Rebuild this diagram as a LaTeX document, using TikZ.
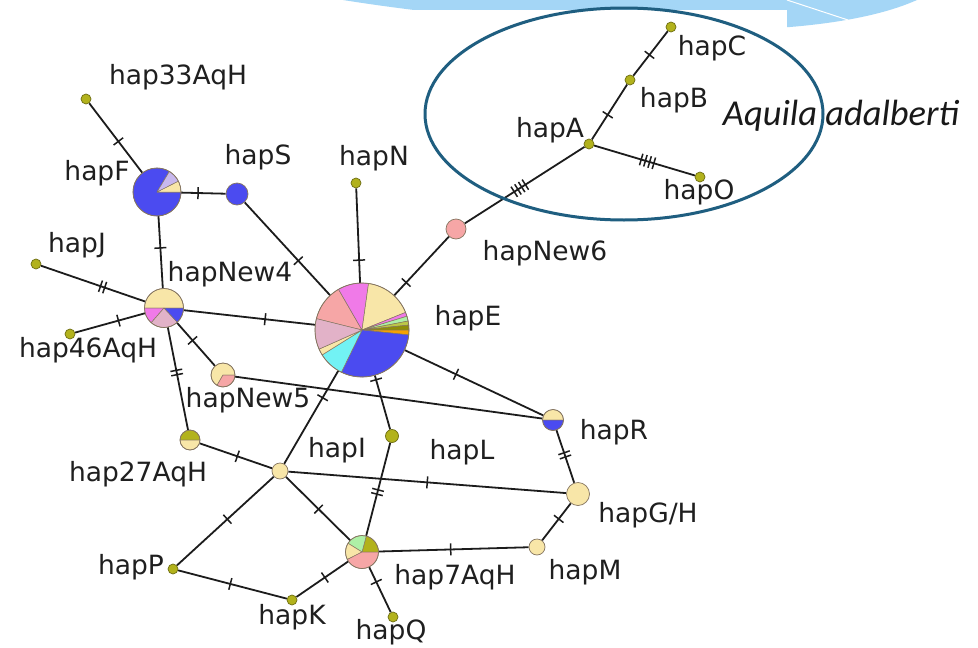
\documentclass[tikz,border=0pt]{standalone}
\usepackage{fontspec}
\newfontfamily\hapfont{DejaVu Sans}
\newfontfamily\spfont{Carlito}
\usetikzlibrary{decorations.markings}

\definecolor{swoosh}{HTML}{A4D6F6}
\definecolor{ringcol}{HTML}{1F5E80}
\definecolor{linkcol}{HTML}{1C1C1C}
\definecolor{rimcol}{HTML}{857560}
\definecolor{hblue}{HTML}{4B4BF0}
\definecolor{hcream}{HTML}{F8E6A8}
\definecolor{hsalmon}{HTML}{F6A6A6}
\definecolor{hmagenta}{HTML}{F07AE8}
\definecolor{hmauve}{HTML}{E2B2C8}
\definecolor{hcyan}{HTML}{72F2F4}
\definecolor{hlav}{HTML}{C8B8EE}
\definecolor{hlgreen}{HTML}{AEF0A6}
\definecolor{hygreen}{HTML}{BCC848}
\definecolor{holive}{HTML}{B2B21C}
\definecolor{hdolive}{HTML}{8E8E08}
\definecolor{horange}{HTML}{F6A200}
\definecolor{dotline}{HTML}{6E6E12}

\pgfdeclarelayer{backdrop}
\pgfdeclarelayer{links}
\pgfsetlayers{backdrop,links,main}

% one wedge of a pie chart: centre node, radius, start angle, end angle, colour
\newcommand\hslice[5]{%
  \filldraw[fill=#5, draw=rimcol, line width=0.5pt, line join=round]
    (#1.center) -- ++({-(#3)}:#2) arc[start angle={-(#3)}, end angle={-(#4)}, radius=#2] -- cycle;}
\newcommand\hrim[2]{\draw[rimcol, line width=0.7pt] (#1.center) circle[radius=#2];}

\tikzset{
  hnode/.style={circle, inner sep=0pt, draw=rimcol, line width=0.7pt},
  hdot/.style={hnode, fill=holive, draw=dotline, minimum size=10pt},
  pienode/.style={circle, inner sep=0pt, draw=none, minimum size=#1},
  lbl/.style={font=\hapfont\fontsize{26.5}{30}\selectfont, text=black!88, inner sep=0pt},
  link/.style={draw=linkcol, line width=1.8pt},
  tickln/.style={draw=linkcol, line width=1.5pt},
  mut/.style 2 args={postaction={decorate, decoration={markings,
    mark=at position #2 with {\foreach \k in {1,...,#1}{%
      \pgfmathsetmacro\off{(\k-(#1+1)/2)*4.4}%
      \draw[tickln] (\off pt,-6pt) -- (\off pt,6pt);}}}}},
}

\begin{document}
\begin{tikzpicture}[x=1pt,y=-1pt]
\useasboundingbox (0,0) rectangle (978,648);

% slide backdrop: pale blue swoosh behind a white panel
\begin{pgfonlayer}{backdrop}
  \fill[white] (0,0) rectangle (978,648);
  \fill[swoosh] (343,0) .. controls (520,28) and (700,32) .. (790,27)
                .. controls (850,22) and (890,12) .. (917,0) -- cycle;
  \draw[white, line width=1pt] (787,0) -- (848,20);
  \fill[white] (0,10) rectangle (787,648);
\end{pgfonlayer}

% haplotypes
\node[hdot] (hap33) at (86,99) {};
\node[pienode=48pt] (hapF) at (157,192) {};
\node[hnode, fill=hblue, minimum size=22pt] (hapS) at (237,194) {};
\node[hdot] (hapJ) at (36,264) {};
\node[hdot] (hap46) at (70,334) {};
\node[pienode=39pt] (hapNew4) at (164,308) {};
\node[hdot] (hapN) at (356,183) {};
\node[pienode=94pt] (hapE) at (362,330) {};
\node[hnode, fill=hsalmon, minimum size=20pt] (hapNew6) at (456,229) {};
\node[hdot] (hapA) at (589,144) {};
\node[hdot] (hapB) at (630,80) {};
\node[hdot] (hapC) at (671,27) {};
\node[hdot] (hapO) at (700,177) {};
\node[pienode=24pt] (hapNew5) at (223,375) {};
\node[pienode=21pt] (hapR) at (553,420) {};
\node[hnode, fill=hcream, minimum size=23pt] (hapGH) at (578,494) {};
\node[hnode, fill=hcream, minimum size=16pt] (hapM) at (537,547) {};
\node[pienode=33pt] (hap7) at (362,552) {};
\node[hdot] (hapQ) at (393,617) {};
\node[hdot] (hapK) at (292,600) {};
\node[hdot] (hapP) at (173,569) {};
\node[hnode, fill=hcream, minimum size=16pt] (hapI) at (280,471) {};
\node[pienode=20pt] (hap27) at (190,440) {};
\node[hdot, minimum size=13pt] (hapL) at (392,436) {};

% mutational steps
\begin{pgfonlayer}{links}
  \draw[link, mut={1}{0.55}] (hap33) -- (hapF);
  \draw[link, mut={1}{0.38}] (hapF) -- (hapS);
  \draw[link, mut={1}{0.44}] (hapF) -- (hapNew4);
  \draw[link, mut={1}{0.63}] (hapS) -- (hapE);
  \draw[link, mut={2}{0.59}] (hapJ) -- (hapNew4);
  \draw[link, mut={1}{0.62}] (hap46) -- (hapNew4);
  \draw[link, mut={1}{0.62}] (hapNew4) -- (hapE);
  \draw[link, mut={1}{0.41}] (hapNew4) -- (hapNew5);
  \draw[link, mut={2}{0.44}] (hapNew4) -- (hap27);
  \draw[link, mut={1}{0.76}] (hapN) -- (hapE);
  \draw[link, mut={1}{0.22}] (hapE) -- (hapNew6);
  \draw[link, mut={4}{0.46}] (hapNew6) -- (hapA);
  \draw[link, mut={1}{0.45}] (hapA) -- (hapB);
  \draw[link, mut={1}{0.47}] (hapB) -- (hapC);
  \draw[link, mut={4}{0.53}] (hapA) -- (hapO);
  \draw[link, mut={1}{0.37}] (hapE) -- (hapR);
  \draw[link] (hapNew5) -- (hapR);
  \draw[link, mut={1}{0.29}] (hapE) -- (hapI);
  \draw[link, mut={1}{0.08}] (hapE) -- (hapL);
  \draw[link, mut={2}{0.53}] (hapL) -- (hap7);
  \draw[link, mut={2}{0.47}] (hapR) -- (hapGH);
  \draw[link, mut={1}{0.42}] (hapGH) -- (hapM);
  \draw[link, mut={1}{0.52}] (hapM) -- (hap7);
  \draw[link, mut={1}{0.50}] (hapI) -- (hapGH);
  \draw[link, mut={1}{0.52}] (hap27) -- (hapI);
  \draw[link, mut={1}{0.48}] (hapI) -- (hapP);
  \draw[link, mut={1}{0.51}] (hapI) -- (hap7);
  \draw[link, mut={1}{0.48}] (hapP) -- (hapK);
  \draw[link, mut={1}{0.55}] (hapK) -- (hap7);
  \draw[link, mut={1}{0.33}] (hap7) -- (hapQ);
\end{pgfonlayer}

% pie charts of haplotype composition
\hslice{hapF}{24}{59}{360}{hblue}
\hslice{hapF}{24}{0}{27}{hcream}
\hslice{hapF}{24}{27}{59}{hlav}
\hrim{hapF}{24}

\hslice{hapNew4}{19.5}{0}{180}{hcream}
\hslice{hapNew4}{19.5}{180}{229}{hmagenta}
\hslice{hapNew4}{19.5}{229}{313}{hmauve}
\hslice{hapNew4}{19.5}{313}{360}{hblue}
\hrim{hapNew4}{19.5}

\hslice{hapE}{47}{120}{166}{hsalmon}
\hslice{hapE}{47}{82}{120}{hmagenta}
\hslice{hapE}{47}{22}{82}{hcream}
\hslice{hapE}{47}{17}{22}{hmagenta}
\hslice{hapE}{47}{11}{17}{hlgreen}
\hslice{hapE}{47}{6}{11}{hygreen}
\hslice{hapE}{47}{0}{6}{hdolive}
\hslice{hapE}{47}{-6}{0}{horange}
\hslice{hapE}{47}{244}{354}{hblue}
\hslice{hapE}{47}{212}{244}{hcyan}
\hslice{hapE}{47}{204}{212}{hcream}
\hslice{hapE}{47}{166}{204}{hmauve}
\hrim{hapE}{47}

\hslice{hapNew5}{12}{0}{240}{hcream}
\hslice{hapNew5}{12}{240}{360}{hsalmon}
\hrim{hapNew5}{12}

\hslice{hapR}{10.5}{0}{180}{hcream}
\hslice{hapR}{10.5}{180}{360}{hblue}
\hrim{hapR}{10.5}

\hslice{hap27}{10}{0}{180}{holive}
\hslice{hap27}{10}{180}{360}{hcream}
\hrim{hap27}{10}

\hslice{hap7}{16.5}{0}{75}{holive}
\hslice{hap7}{16.5}{75}{148}{hlgreen}
\hslice{hap7}{16.5}{148}{207}{hcream}
\hslice{hap7}{16.5}{207}{360}{hsalmon}
\hrim{hap7}{16.5}

% labels
\node[lbl] (t-hap33) at (178,77) {hap33AqH};
\node[lbl] (t-hapF) at (97,173) {hapF};
\node[lbl] (t-hapS) at (258,157) {hapS};
\node[lbl] (t-hapJ) at (77,245) {hapJ};
\node[lbl] (t-hap46) at (88,350) {hap46AqH};
\node[lbl] (t-hapNew4) at (230,274) {hapNew4};
\node[lbl] (t-hapN) at (374,158) {hapN};
\node[lbl] (t-hapE) at (468,318) {hapE};
\node[lbl] (t-hapNew6) at (545,253) {hapNew6};
\node[lbl] (t-hapA) at (550,130) {hapA};
\node[lbl] (t-hapB) at (674,100) {hapB};
\node[lbl] (t-hapC) at (712,48) {hapC};
\node[lbl] (t-hapO) at (699,192) {hapO};
\node[lbl] (t-hapNew5) at (248,400) {hapNew5};
\node[lbl] (t-hapR) at (614,432) {hapR};
\node[lbl] (t-hapGH) at (648,515) {hapG/H};
\node[lbl] (t-hapM) at (585,572) {hapM};
\node[lbl] (t-hap7) at (455,577) {hap7AqH};
\node[lbl] (t-hapQ) at (391,632) {hapQ};
\node[lbl] (t-hapK) at (292,617) {hapK};
\node[lbl] (t-hapP) at (131,567) {hapP};
\node[lbl] (t-hapI) at (337,450) {hapI};
\node[lbl] (t-hap27) at (138,474) {hap27AqH};
\node[lbl] (t-hapL) at (462,452) {hapL};

% Aquila adalberti group
\draw[ringcol, line width=3pt] (624,114) ellipse [x radius=199, y radius=106];
\node[font=\spfont\itshape\fontsize{36.5}{42}\selectfont, text=black!90, inner sep=0pt]
  (t-group) at (841,116) {Aquila adalberti};
\end{tikzpicture}
\end{document}
